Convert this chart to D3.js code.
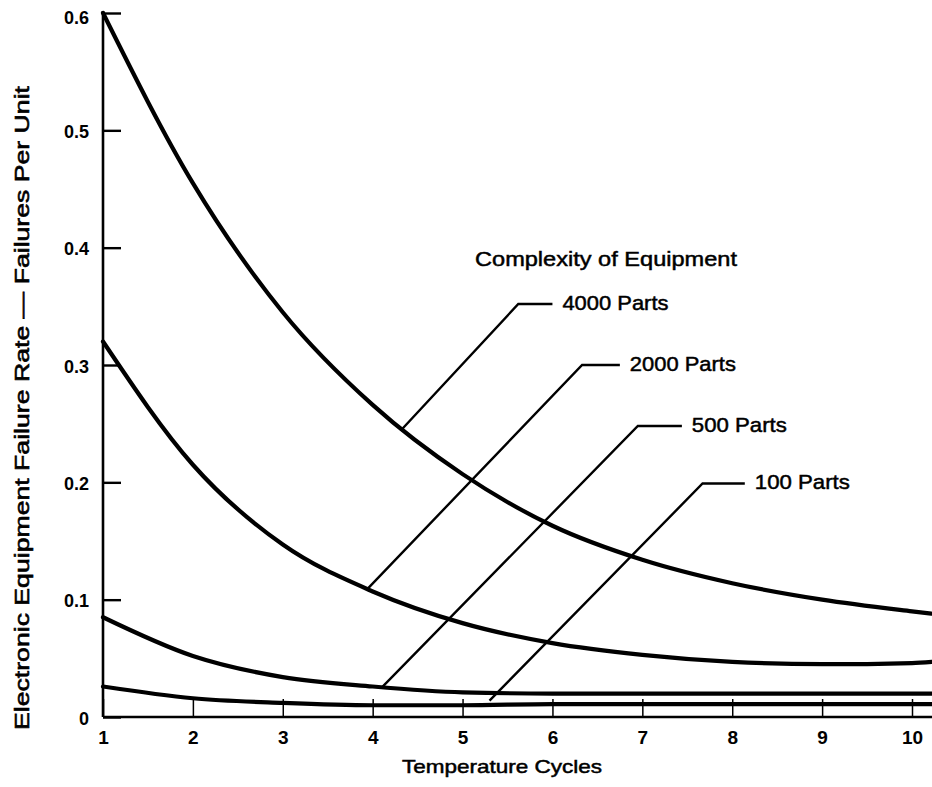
<!DOCTYPE html>
<html>
<head>
<meta charset="utf-8">
<script src="https://cdn.jsdelivr.net/npm/d3@7"></script>
<style>
  html, body { margin: 0; padding: 0; background: #fff; }
  svg { display: block; }
  text { font-family: "Liberation Sans", Arial, Helvetica, sans-serif; fill: #000; }
</style>
</head>
<body>
<svg id="chart" width="932" height="787"></svg>
<script>
// ---- data ----
const cycles = [1, 2, 3, 4, 5, 6, 7, 8, 9, 10, 10.22];
const seriesNames = ["4000 Parts", "2000 Parts", "500 Parts", "100 Parts"];
const parts4000 = [0.600, 0.455, 0.345, 0.266, 0.207, 0.163, 0.134, 0.114, 0.100, 0.090, 0.088];
const parts2000 = [0.320, 0.215, 0.147, 0.107, 0.080, 0.063, 0.053, 0.047, 0.045, 0.046, 0.047];
const parts500  = [0.085, 0.052, 0.034, 0.026, 0.021, 0.020, 0.020, 0.020, 0.020, 0.020, 0.020];
const parts100  = [0.026, 0.016, 0.012, 0.010, 0.010, 0.011, 0.011, 0.011, 0.011, 0.011, 0.011];
const xTicks = [1, 2, 3, 4, 5, 6, 7, 8, 9, 10];
const yTicks = [0, 0.1, 0.2, 0.3, 0.4, 0.5, 0.6];
const yTickLabels = ["0", "0.1", "0.2", "0.3", "0.4", "0.5", "0.6"];
const xTitle = "Temperature Cycles";
const yTitle = "Electronic Equipment Failure Rate \u2014 Failures Per Unit";
const legendTitle = "Complexity of Equipment";
// leader lines (data units): point on curve -> elbow -> end of short horizontal
const leaderCurveX = [4.31, 3.94, 4.10, 5.30];
const leaderCurveY = [0.244, 0.109, 0.025, 0.014];
const leaderElbowX = [5.62, 6.33, 6.95, 7.67];
const leaderElbowY = [0.352, 0.300, 0.248, 0.199];
const leaderEndX   = [6.00, 6.75, 7.44, 8.14];

const series = [parts4000, parts2000, parts500, parts100];

// ---- layout ----
const svg = d3.select("#chart");
const x = d3.scaleLinear().domain([1, 10]).range([103, 912]);
const y = d3.scaleLinear().domain([0, 0.6]).range([717, 13]);

// curves
const line = d3.line()
  .x((d, i) => x(cycles[i]))
  .y(d => y(d))
  .curve(d3.curveMonotoneX);

svg.append("g").selectAll("path").data(series).join("path")
  .attr("d", line)
  .attr("fill", "none")
  .attr("stroke", "#000")
  .attr("stroke-width", 4.2)
  .attr("stroke-linecap", "round");

// axes
const yAxis = d3.axisLeft(y).tickValues(yTicks).tickSize(-18)
  .tickFormat((d, i) => yTickLabels[i]).tickPadding(14);
const gy = svg.append("g").attr("transform", `translate(${x(1)},0)`).call(yAxis);
gy.select(".domain").attr("d", `M0,${y(0)}V${y(0.6) - 2}`).attr("stroke", "#000").attr("stroke-width", 2.6);
gy.selectAll(".tick line").attr("stroke", "#000").attr("stroke-width", 2.4);
gy.selectAll(".tick text").attr("font-size", 18).attr("font-weight", "bold").attr("x", -14)
  .attr("dy", d => d === 0.6 ? "0.6em" : "0.4em");

const xAxis = d3.axisBottom(x).tickValues(xTicks).tickSize(-18).tickPadding(12)
  .tickFormat(d3.format("d"));
const gx = svg.append("g").attr("transform", `translate(0,${y(0)})`).call(xAxis);
gx.select(".domain").attr("d", `M${x(1)},0H932`).attr("stroke", "#000").attr("stroke-width", 2.6);
gx.selectAll(".tick line").attr("stroke", "#000").attr("stroke-width", 1.5);
gx.selectAll(".tick text").attr("font-size", 19).attr("font-weight", "bold")
  .attr("y", 14).attr("dy", "0.71em");

// axis titles
svg.append("text")
  .attr("x", 502).attr("y", 768)
  .attr("text-anchor", "middle").attr("dominant-baseline", "middle")
  .attr("font-size", 19)
  .attr("stroke", "#000").attr("stroke-width", 0.5)
  .attr("textLength", 200).attr("lengthAdjust", "spacingAndGlyphs")
  .text(xTitle);

svg.append("text")
  .attr("transform", "translate(24,408) rotate(-90)")
  .attr("text-anchor", "middle").attr("dominant-baseline", "middle")
  .attr("font-size", 20)
  .attr("stroke", "#000").attr("stroke-width", 0.6)
  .attr("textLength", 644).attr("lengthAdjust", "spacingAndGlyphs")
  .text(yTitle);

// legend title
svg.append("text")
  .attr("x", 475).attr("y", 260)
  .attr("dominant-baseline", "middle")
  .attr("font-size", 21)
  .attr("stroke", "#000").attr("stroke-width", 0.5)
  .attr("textLength", 262).attr("lengthAdjust", "spacingAndGlyphs")
  .text(legendTitle);

// leaders and labels
const lg = svg.append("g");
seriesNames.forEach((name, i) => {
  const pts = [
    [x(leaderCurveX[i]), y(leaderCurveY[i])],
    [x(leaderElbowX[i]), y(leaderElbowY[i])],
    [x(leaderEndX[i]), y(leaderElbowY[i])]
  ];
  lg.append("path")
    .attr("d", d3.line()(pts))
    .attr("fill", "none").attr("stroke", "#000").attr("stroke-width", 2.4);
  lg.append("text")
    .attr("x", x(leaderEndX[i]) + 10).attr("y", y(leaderElbowY[i]))
    .attr("dominant-baseline", "middle")
    .attr("font-size", 21)
    .attr("stroke", "#000").attr("stroke-width", 0.5)
    .attr("textLength", name.length > 9 ? 106 : 95).attr("lengthAdjust", "spacingAndGlyphs")
    .text(name);
});
</script>
</body>
</html>
